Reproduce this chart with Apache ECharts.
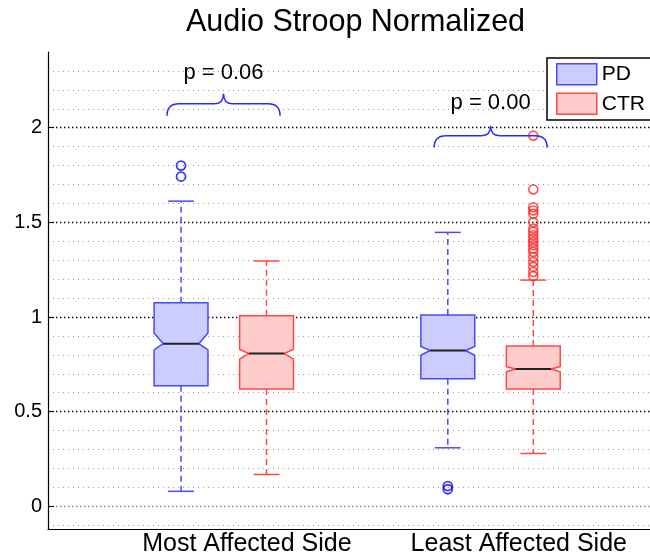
<!DOCTYPE html>
<html>
<head>
<meta charset="utf-8">
<script src="https://cdn.jsdelivr.net/npm/echarts@6/dist/echarts.min.js"></script>
<style>
  html, body { margin: 0; padding: 0; background: #fff; }
  #chart { width: 650px; height: 557px; }
</style>
</head>
<body>
<div id="chart"></div>
<script>
// ---- data -------------------------------------------------------------
const groups = ['Most Affected Side', 'Least Affected Side'];
const seriesNames = ['PD', 'CTR'];

// per box: [lower whisker, Q1, notch low, median, notch high, Q3, upper whisker]
const pdStats = [
  [0.079, 0.637, 0.826, 0.859, 0.915, 1.075, 1.612],
  [0.309, 0.674, 0.798, 0.823, 0.844, 1.010, 1.447]
];
const ctrStats = [
  [0.168, 0.619, 0.777, 0.807, 0.830, 1.007, 1.296],
  [0.279, 0.619, 0.710, 0.725, 0.738, 0.847, 1.195]
];

const pdOutliers = [
  [1.800, 1.742],
  [0.107, 0.090]
];
const ctrOutliers = [
  [],
  [1.958, 1.674, 1.580, 1.563, 1.545, 1.500, 1.467, 1.450, 1.432, 1.414,
   1.396, 1.379, 1.361, 1.344, 1.317, 1.291, 1.265, 1.238, 1.216]
];

const pValues = ['0.06', '0.00'];

const yMajorTicks = [0, 0.5, 1, 1.5, 2];
const yMinorTicks = [-0.1, 0.1, 0.2, 0.3, 0.4, 0.6, 0.7, 0.8, 0.9,
  1.1, 1.2, 1.3, 1.4, 1.6, 1.7, 1.8, 1.9, 2.1, 2.2, 2.3];

// ---- layout -----------------------------------------------------------
const slotX = { PD: [1, 4.12], CTR: [2, 5.12] };   // box centres on the x scale
const groupLabelAt = [1.77, 4.95];                 // where group names sit
const BOX_W = 0.63;
const braceLayout = [
  { x0: 0.836, x1: 2.158, yEnd: 2.063, yMid: 2.126, yTip: 2.179, yText: 2.29 },
  { x0: 3.960, x1: 5.282, yEnd: 1.895, yMid: 1.958, yTip: 2.010, yText: 2.13 }
];

const FONT = '"Liberation Sans", Arial, Helvetica, sans-serif';
const palette = {
  PD:  { fill: '#ccccff', edge: '#4848ff', dot: '#0a0aff' },
  CTR: { fill: '#ffcccc', edge: '#ff4848', dot: '#ff2a2a' }
};

// ---- renderers --------------------------------------------------------
function renderBox(colors) {
  return function (params, api) {
    const x = api.value(0);
    const py = i => api.coord([x, api.value(i)])[1];
    const cx = api.coord([x, 0])[0];
    const half = api.size([BOX_W, 0])[0] / 2;
    const indent = half * 0.34;
    const capHalf = half * 0.48;
    const yLo = py(1), yQ1 = py(2), yNL = py(3), yMed = py(4),
          yNH = py(5), yQ3 = py(6), yHi = py(7);
    const dashed = { stroke: colors.edge, lineWidth: 1.5, lineDash: [6, 4], fill: null };
    const solid = { stroke: colors.edge, lineWidth: 1.5, fill: null };
    return {
      type: 'group',
      children: [
        { type: 'line', shape: { x1: cx, y1: yQ3, x2: cx, y2: yHi }, style: dashed },
        { type: 'line', shape: { x1: cx, y1: yQ1, x2: cx, y2: yLo }, style: dashed },
        { type: 'line', shape: { x1: cx - capHalf, y1: yHi, x2: cx + capHalf, y2: yHi }, style: solid },
        { type: 'line', shape: { x1: cx - capHalf, y1: yLo, x2: cx + capHalf, y2: yLo }, style: solid },
        {
          type: 'polygon',
          shape: {
            points: [
              [cx - half, yQ3], [cx + half, yQ3], [cx + half, yNH],
              [cx + half - indent, yMed], [cx + half, yNL], [cx + half, yQ1],
              [cx - half, yQ1], [cx - half, yNL], [cx - half + indent, yMed],
              [cx - half, yNH]
            ]
          },
          style: { fill: colors.fill, stroke: colors.edge, lineWidth: 1.5 }
        },
        {
          type: 'line',
          shape: { x1: cx - half + indent, y1: yMed, x2: cx + half - indent, y2: yMed },
          style: { stroke: '#222', lineWidth: 2 }
        }
      ]
    };
  };
}

function renderBrace(params, api) {
  const b = braceLayout[params.dataIndex];
  const cxv = (b.x0 + b.x1) / 2;
  const [xl, ye] = api.coord([b.x0, b.yEnd]);
  const [xr] = api.coord([b.x1, b.yEnd]);
  const [xc, ym] = api.coord([cxv, b.yMid]);
  const yt = api.coord([cxv, b.yTip])[1];
  const ytx = api.coord([cxv, b.yText])[1];
  const r = 12, rt = 9;
  const path =
    'M' + xl + ',' + ye +
    ' Q' + xl + ',' + ym + ' ' + (xl + r) + ',' + ym +
    ' L' + (xc - rt) + ',' + ym +
    ' Q' + xc + ',' + ym + ' ' + xc + ',' + yt +
    ' Q' + xc + ',' + ym + ' ' + (xc + rt) + ',' + ym +
    ' L' + (xr - r) + ',' + ym +
    ' Q' + xr + ',' + ym + ' ' + xr + ',' + ye;
  return {
    type: 'group',
    children: [
      { type: 'path', shape: { pathData: path }, style: { stroke: '#2a2aff', lineWidth: 1.5, fill: null } },
      {
        type: 'text',
        style: {
          x: xc, y: ytx, text: 'p = ' + pValues[params.dataIndex],
          align: 'center', verticalAlign: 'middle',
          font: '22px ' + FONT, fill: '#000'
        }
      }
    ]
  };
}

// ---- series assembly --------------------------------------------------
function boxData(stats, xs) {
  return stats.map((s, i) => [xs[i]].concat(s));
}
function outlierData(lists, xs) {
  const out = [];
  lists.forEach((vals, i) => vals.forEach(v => out.push([xs[i], v])));
  return out;
}

const chart = echarts.init(document.getElementById('chart'), null, { renderer: 'canvas' });

chart.setOption({
  animation: false,
  backgroundColor: '#fff',
  title: {
    text: 'Audio Stroop Normalized',
    left: 181, top: 2,
    textStyle: { fontFamily: FONT, fontSize: 30.5, fontWeight: 'normal', color: '#000' }
  },
  legend: {
    left: 547, top: 58,
    orient: 'vertical',
    padding: [5, 12, 5, 9],
    itemGap: 7,
    itemWidth: 40, itemHeight: 21,
    backgroundColor: '#fff',
    borderColor: '#000', borderWidth: 1.5,
    textStyle: { fontFamily: FONT, fontSize: 21, color: '#000', padding: [0, 0, 0, 0] },
    data: seriesNames.map(n => ({
      name: n, icon: 'rect',
      itemStyle: { color: palette[n].fill, borderColor: palette[n].edge, borderWidth: 1.5 }
    }))
  },
  grid: { left: 48, right: 0, top: 52, bottom: 27 },
  xAxis: {
    type: 'value',
    min: -0.556, max: 6.485,
    axisLine: { show: true, onZero: false, lineStyle: { color: '#000', width: 1.2 } },
    axisTick: { show: false },
    splitLine: { show: false },
    axisLabel: {
      customValues: groupLabelAt,
      formatter: v => {
        const i = groupLabelAt.findIndex(p => Math.abs(p - v) < 1e-6);
        return i >= 0 ? groups[i] : '';
      },
      fontFamily: FONT, fontSize: 25, color: '#000', margin: 3
    }
  },
  yAxis: [
    {
      type: 'value',
      min: -0.12, max: 2.4,
      axisLine: { show: true, onZero: false, lineStyle: { color: '#000', width: 1.2 } },
      axisTick: { show: true, inside: true, length: 6, customValues: yMajorTicks,
                  lineStyle: { color: '#000' } },
      axisLabel: { customValues: yMajorTicks, fontFamily: FONT, fontSize: 20, color: '#000', margin: 6 },
      splitLine: { show: true, lineStyle: { color: ['#8a8a8a', '#000', '#000', '#000', '#000'],
                   width: 1.4, type: [1.4, 2.6] } }
    },
    {
      type: 'value',
      min: -0.12, max: 2.4,
      position: 'left',
      axisLine: { show: false, onZero: false },
      axisTick: { show: false, customValues: yMinorTicks },
      axisLabel: { show: false },
      splitLine: { show: true, lineStyle: { color: '#999', width: 1, type: [1, 4] } }
    }
  ],
  series: [
    {
      name: 'PD', type: 'custom', renderItem: renderBox(palette.PD),
      encode: { x: 0, y: [1, 2, 3, 4, 5, 6, 7] },
      data: boxData(pdStats, slotX.PD), z: 3
    },
    {
      name: 'CTR', type: 'custom', renderItem: renderBox(palette.CTR),
      encode: { x: 0, y: [1, 2, 3, 4, 5, 6, 7] },
      data: boxData(ctrStats, slotX.CTR), z: 3
    },
    {
      name: 'PD', type: 'scatter', symbol: 'circle', symbolSize: 9,
      itemStyle: { color: 'rgba(0,0,0,0)', borderColor: palette.PD.dot, borderWidth: 1.8 },
      data: outlierData(pdOutliers, slotX.PD), z: 4
    },
    {
      name: 'CTR', type: 'scatter', symbol: 'circle', symbolSize: 9,
      itemStyle: { color: 'rgba(0,0,0,0)', borderColor: palette.CTR.dot, borderWidth: 1.6 },
      data: outlierData(ctrOutliers, slotX.CTR), z: 4
    },
    {
      name: 'brace', type: 'custom', renderItem: renderBrace,
      encode: { x: 0, y: 1 },
      data: braceLayout.map(b => [(b.x0 + b.x1) / 2, b.yMid]), z: 5
    }
  ]
});
</script>
</body>
</html>
